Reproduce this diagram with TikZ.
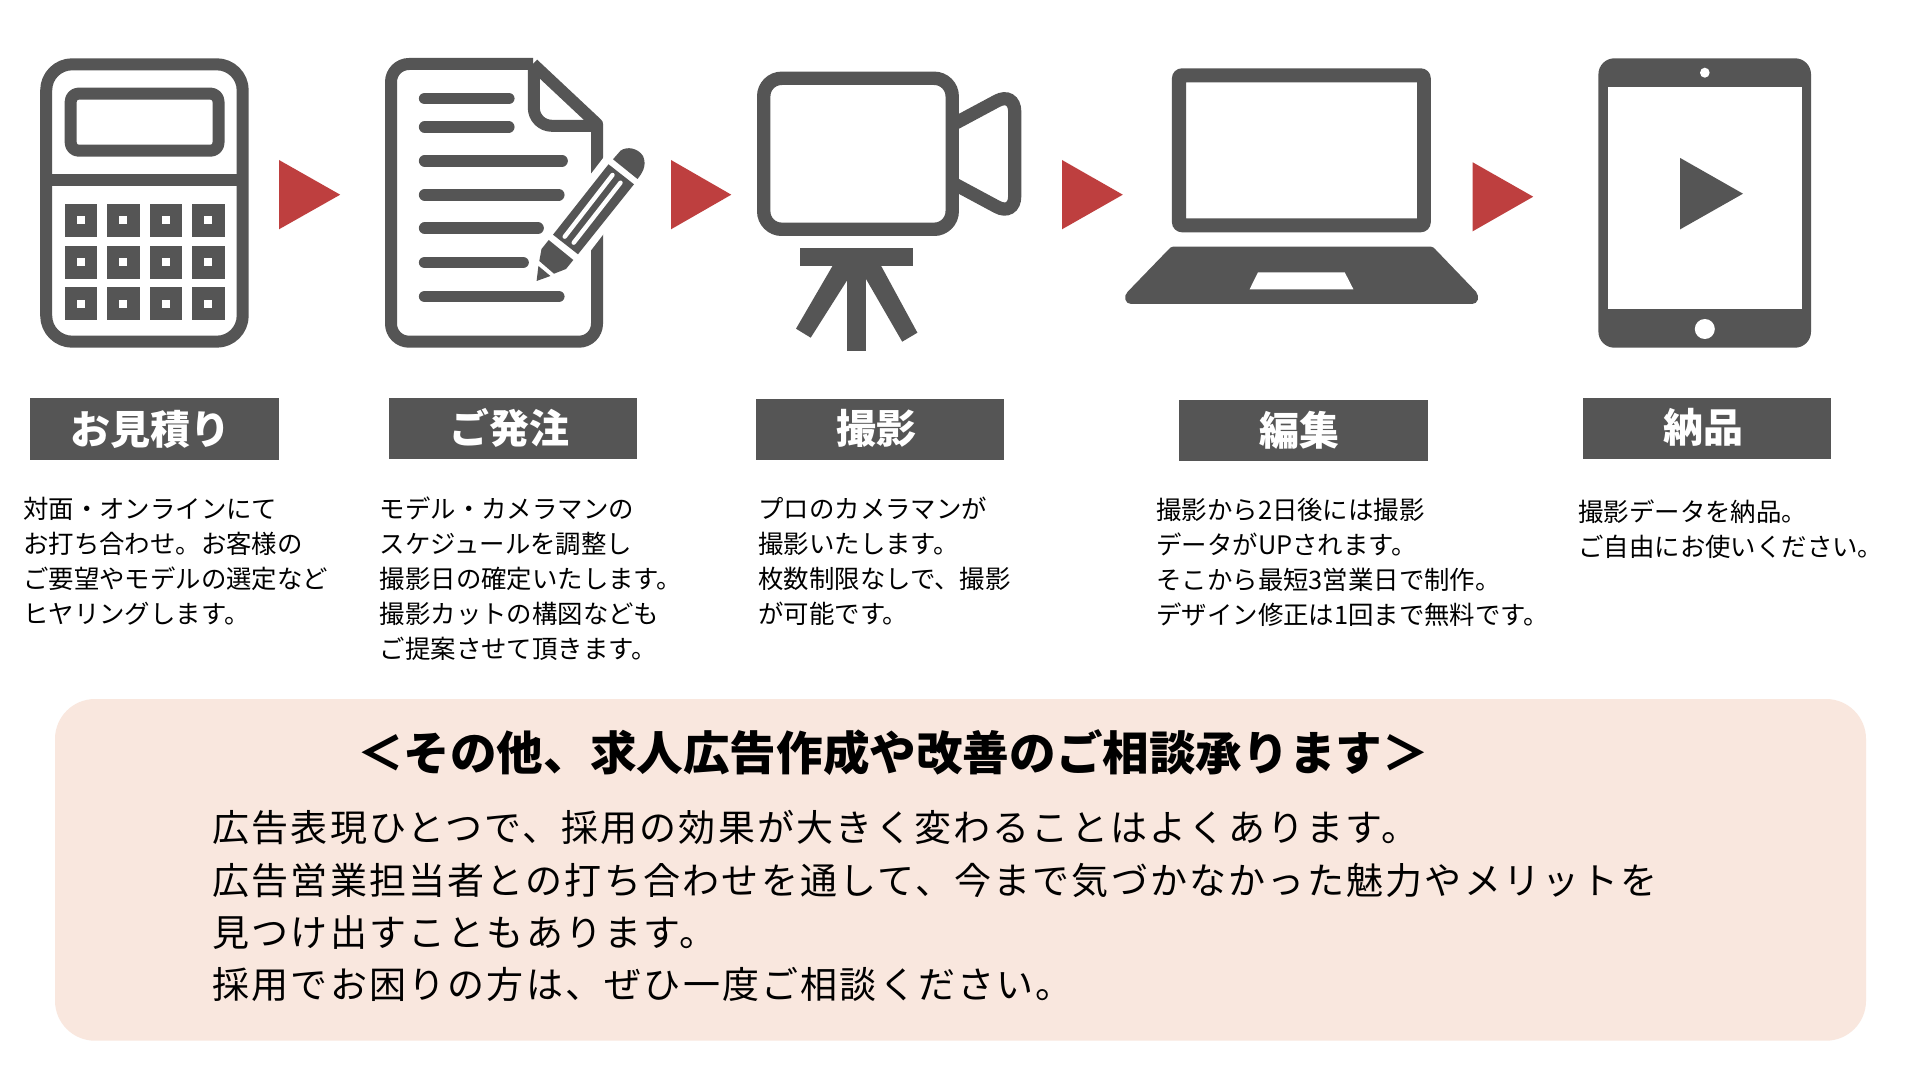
\documentclass[tikz,border=0pt]{standalone}
\usepackage{fontspec}
\newfontfamily\jp{Noto Sans CJK JP}
\definecolor{ink}{HTML}{555555}
\definecolor{redarrow}{HTML}{BE3F3F}
\definecolor{panel}{HTML}{F9E7DE}
\tikzset{
  iconline/.style={draw=ink,line width=6pt,line join=round},
  docline/.style={draw=ink,line width=5.85pt,line cap=round},
  redtri/.style={fill=redarrow},
  lblbox/.style={fill=ink,inner sep=0pt,outer sep=0pt},
  lbltext/.style={text=white,inner sep=0pt,font=\jp\bfseries\fontsize{20}{24}\selectfont},
  desc/.style={anchor=north west,inner sep=0pt,align=left,font=\jp\fontsize{12.7}{17.5}\selectfont},
}
\begin{document}
\begin{tikzpicture}[x=0.5pt,y=-0.5pt]
\useasboundingbox (0,0) rectangle (1920,1080);
\fill[white] (0,0) rectangle (1920,1080);

% calculator
\draw[iconline,rounded corners=13pt] (46.2,64.3) rectangle (242.7,341.7);
\fill[ink] (46,174.3) rectangle (243,186);
\draw[iconline,rounded corners=4pt] (70.7,93.6) rectangle (218.5,150.7);
\foreach \cx in {81,123.35,165.8,208.25}{
  \foreach \cy in {220.2,262.2,304}{
    \fill[ink] (\cx-16.3,\cy-16.5) rectangle (\cx+16.3,\cy+16.5);
    \fill[white] (\cx-4,\cy-4) rectangle (\cx+4,\cy+4);
  }
}

% document
\draw[iconline,rounded corners=9pt] (533,64) -- (391,64) -- (391,341.7) -- (597,341.7) -- (597,180);
\draw[iconline] (533,64) -- (597,124) -- (597,180);
\draw[iconline,rounded corners=9pt] (533.8,64) -- (533.8,125.8) -- (597,125.8);
\fill[white] (607,153) -- (587,179) -- (587,255.5) -- (607,229.5) -- cycle;
\foreach \ya/\xa in {98.5/508.7,127/508.7,160.8/562,194.8/558.7,228.2/538,262.5/523,296.5/558.7}{
  \draw[docline] (424.7,\ya) -- (\xa,\ya);
}
% pencil
\fill[ink] (613,159.3) -- (620.5,150.7) .. controls (627,146) and (638,148) .. (643,156) .. controls (646,163) and (645,170) .. (637.5,179) -- cycle;
\fill[ink] (608.5,164.3) -- (634,184.3) -- (578,254.3) -- (553,234.7) -- cycle;
\draw[white,line width=2.2pt,line cap=round] (612.5,175) -- (564.7,236.7);
\draw[white,line width=2.2pt,line cap=round] (620.5,182.7) -- (573.7,242.7);
\fill[ink] (548.7,240) -- (573.3,260) -- (566,269) -- (554,273.7) -- (539.3,261) -- (541.5,249) -- cycle;
\fill[ink] (538.4,266) -- (550.4,276) -- (536.6,281) -- cycle;

% red arrows
\fill[redtri] (279,160) -- (340.2,194.7) -- (279,229.3) -- cycle;
\fill[redtri] (671,160) -- (731.3,194.7) -- (671,229.3) -- cycle;
\fill[redtri] (1062,160) -- (1122.8,194.7) -- (1062,229.3) -- cycle;
\fill[redtri] (1472.7,162.3) -- (1533.2,196.7) -- (1472.7,231.3) -- cycle;

% camera
\draw[draw=ink,line width=6.7pt,rounded corners=9pt] (763.7,78.3) rectangle (952.2,229.3);
\draw[draw=ink,line width=6.6pt,rounded corners=10pt] (952,125) -- (1014.7,91.4) -- (1014.7,216.4) -- (952,182.7);
\fill[ink] (800,248.3) rectangle (913.4,266.3);
\fill[ink] (847.3,262) rectangle (865.6,351.3);
\fill[ink] (834.8,262) -- (850,262) -- (847.3,280) -- (810.7,337.7) -- (796,328.7) -- cycle;
\fill[ink] (879,262) -- (917.4,332.7) -- (902.2,341.7) -- (865.6,278.3) -- (862,262) -- cycle;

% laptop
\fill[ink,even odd rule] [rounded corners=5pt] (1171.9,68.3) rectangle (1430.8,232.3) [sharp corners] (1186,82.3) rectangle (1417,218.3);
\fill[ink] (1173,246.7) -- (1431,246.7) .. controls (1433,246.7) and (1434,248) .. (1435,249) -- (1476,291.7) .. controls (1480,297) and (1478,304) .. (1472,304) -- (1131,304) .. controls (1125,304) and (1123,296) .. (1127.7,291.7) -- (1169,249) .. controls (1170,248) and (1171,246.7) .. (1173,246.7) -- cycle;
\fill[white] (1258,272.3) -- (1344.7,272.3) -- (1353.4,289.3) -- (1249.6,289.3) -- cycle;

% tablet
\fill[ink,rounded corners=8pt] (1598.4,58.3) rectangle (1811,347.7);
\fill[white] (1608,87.3) rectangle (1802,309.3);
\fill[white] (1704.8,72.7) circle[x radius=4.8,y radius=5];
\fill[white] (1704.8,329) circle[radius=10];
\fill[ink] (1680.2,158) -- (1743,193.7) -- (1680.2,229.3) -- cycle;

% labels
\path[lblbox,fill=ink] (30,398) rectangle (279,460);
\path[lblbox,fill=ink] (389,397.5) rectangle (637,459);
\path[lblbox,fill=ink] (755.5,398.5) rectangle (1004,460);
\path[lblbox,fill=ink] (1179,399.5) rectangle (1428,461);
\path[lblbox,fill=ink] (1582.5,397.5) rectangle (1830.5,459);
\node[lbltext] (t1) at (150.5,429) {お見積り};
\node[lbltext] (t2) at (509.5,427.5) {ご発注};
\node[lbltext] (t3) at (876,428.5) {撮影};
\node[lbltext] (t4) at (1299.5,430.5) {編集};
\node[lbltext] (t5) at (1703,427.5) {納品};

% descriptions
\node[desc] (d1) at (23,497) {対面・オンラインにて\\お打ち合わせ。お客様の\\ご要望やモデルの選定など\\ヒヤリングします。};
\node[desc] (d2) at (379.5,496) {モデル・カメラマンの\\スケジュールを調整し\\撮影日の確定いたします。\\撮影カットの構図なども\\ご提案させて頂きます。};
\node[desc] (d3) at (758,497) {プロのカメラマンが\\撮影いたします。\\枚数制限なしで、撮影\\が可能です。};
\node[desc] (d4) at (1156,497.5) {撮影から2日後には撮影\\データがUPされます。\\そこから最短3営業日で制作。\\デザイン修正は1回まで無料です。};
\node[desc] (d5) at (1578,499.5) {撮影データを納品。\\ご自由にお使いください。};

% panel
\fill[panel,rounded corners=20pt] (55,699) rectangle (1866,1040.7);
\node[inner sep=0pt,font=\jp\bfseries\fontsize{23.3}{28}\selectfont] (title) at (893,753) {＜その他、求人広告作成や改善のご相談承ります＞};
\node[inner sep=0pt,anchor=north west,align=left,font=\jp\fontsize{18.5}{26.2}\selectfont\addfontfeature{LetterSpace=6}] (body) at (212,810) {広告表現ひとつで、採用の効果が大きく変わることはよくあります。\\広告営業担当者との打ち合わせを通して、今まで気づかなかった魅力やメリットを\\見つけ出すこともあります。\\採用でお困りの方は、ぜひ一度ご相談ください。};
\end{tikzpicture}
\end{document}
